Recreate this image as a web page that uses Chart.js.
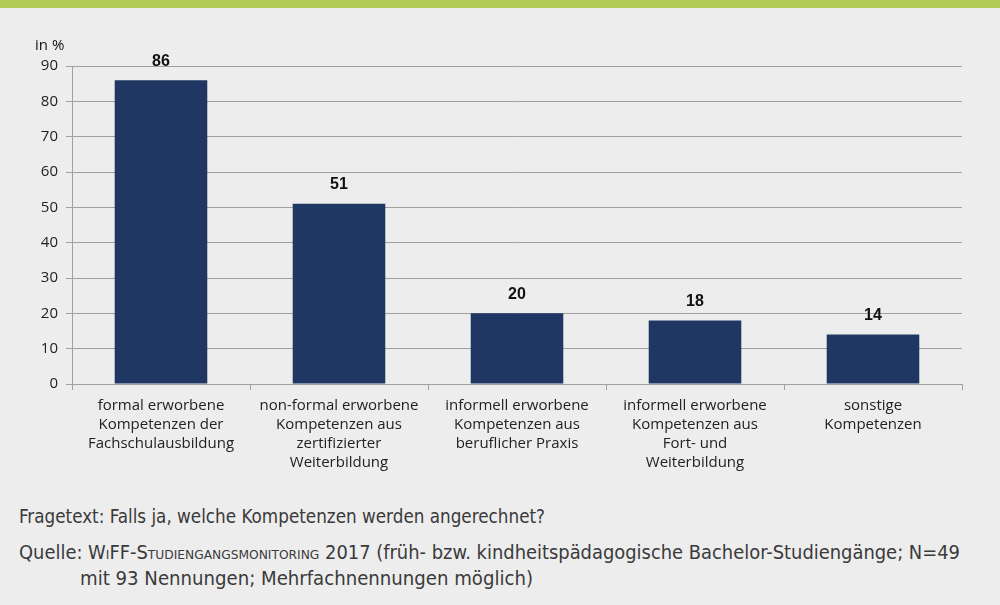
<!DOCTYPE html>
<html><head><meta charset="utf-8">
<script src="https://cdn.jsdelivr.net/npm/chart.js@4/dist/chart.umd.min.js"></script>
<style>
html,body{margin:0;padding:0;}
body{width:1000px;height:605px;background:#ededed;position:relative;overflow:hidden;font-family:"Open Sans",sans-serif;}
#band{position:absolute;left:0;top:0;width:1000px;height:8px;background:#b1cb55;}
#wrap{position:absolute;left:0;top:0;width:1000px;height:480px;}
#unit{position:absolute;left:35px;top:34px;font-size:15px;color:#111;}
.foot{position:absolute;font-family:"DejaVu Sans Condensed","Liberation Sans Narrow",sans-serif;font-size:19px;color:#3a3a3a;white-space:nowrap;transform-origin:0 0;line-height:1;}
.sc{font-variant:small-caps;}
</style></head><body>
<div id="band"></div>
<div id="wrap"><canvas id="c"></canvas></div>
<div id="unit">in %</div>
<div class="foot" data-w="526" style="left:19px;top:507px;">Fragetext: Falls ja, welche Kompetenzen werden angerechnet?</div>
<div class="foot" data-w="941" style="left:19px;top:543px;">Quelle: <span class="sc">WiFF-Studiengangsmonitoring</span> 2017 (früh- bzw. kindheitspädagogische Bachelor-Studiengänge; N=49</div>
<div class="foot" data-w="453" style="left:80px;top:569px;">mit 93 Nennungen; Mehrfachnennungen möglich)</div>
<script>
const categories = [
  ["formal erworbene","Kompetenzen der","Fachschulausbildung"],
  ["non-formal erworbene","Kompetenzen aus","zertifizierter","Weiterbildung"],
  ["informell erworbene","Kompetenzen aus","beruflicher Praxis"],
  ["informell erworbene","Kompetenzen aus","Fort- und","Weiterbildung"],
  ["sonstige","Kompetenzen"]
];
const values = [86, 51, 20, 18, 14];
const yMin = 0, yMax = 90, yStep = 10;

document.querySelectorAll('.foot').forEach(el=>{
  const w = el.getBoundingClientRect().width;
  const t = parseFloat(el.dataset.w);
  el.style.transform = 'scaleX(' + (t / w) + ')';
});

const labelPlugin = {
  id:'valLabels',
  afterDatasetsDraw(chart){
    const ctx = chart.ctx;
    const meta = chart.getDatasetMeta(0);
    ctx.save();
    ctx.font = 'bold 16px "Liberation Sans", Arial, sans-serif';
    ctx.fillStyle = '#111';
    ctx.textAlign = 'center';
    ctx.textBaseline = 'middle';
    meta.data.forEach((bar,i)=>{
      ctx.fillText(String(values[i]), bar.x, bar.y - 19);
    });
    ctx.restore();
  }
};

new Chart(document.getElementById('c'), {
  type:'bar',
  data:{labels:categories, datasets:[{data:values, backgroundColor:'#1f3762', borderWidth:0, barPercentage:0.52, categoryPercentage:1}]},
  options:{
    responsive:true, maintainAspectRatio:false, animation:false,
    layout:{padding:{top:66,right:38,left:0,bottom:0}},
    plugins:{legend:{display:false}, tooltip:{enabled:false}},
    scales:{
      x:{
        grid:{drawOnChartArea:false, drawTicks:true, tickLength:6, offset:true, color:'#a0a0a0'},
        border:{color:'#a0a0a0', width:1},
        ticks:{color:'#222', font:{family:'"Open Sans", sans-serif', size:15, lineHeight:1.27}, padding:6, maxRotation:0, autoSkip:false},
        afterFit(s){ s.height = 96; }
      },
      y:{
        min:yMin, max:yMax,
        grid:{color:'#a0a0a0', tickLength:6, drawTicks:true},
        border:{color:'#a0a0a0', width:1},
        ticks:{stepSize:yStep, color:'#222', font:{family:'"Open Sans", sans-serif', size:15}, padding:8},
        afterFit(s){ s.width = 72; }
      }
    }
  },
  plugins:[labelPlugin]
});
</script>
</body></html>
